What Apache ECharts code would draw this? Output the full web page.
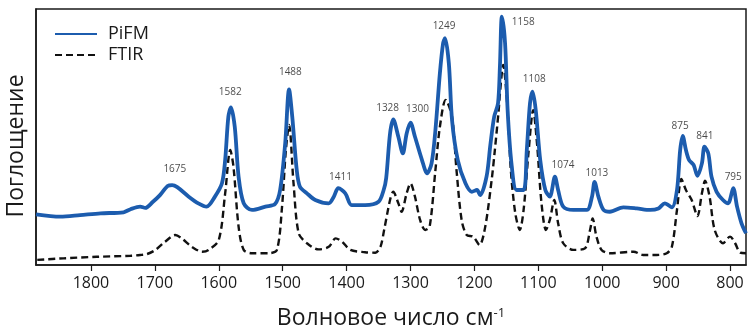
<!DOCTYPE html>
<html>
<head>
<meta charset="utf-8">
<script src="https://cdn.jsdelivr.net/npm/echarts@6/dist/echarts.min.js"></script>
<style>
  html, body { margin: 0; padding: 0; background: #fff; }
  #chart { width: 750px; height: 331px; }
</style>
</head>
<body>
<div id="chart"></div>
<script>
// PiFM spectrum: wavenumber (cm-1) and absorbance (a.u.)
const pifmWn = [1886, 1848, 1817, 1785, 1749, 1738, 1723, 1715, 1703, 1692, 1680, 1673, 1665, 1647, 1632, 1619, 1606, 1595, 1590, 1585, 1581, 1575, 1569, 1561, 1548, 1527, 1512, 1504, 1496, 1490, 1485, 1478, 1473, 1462, 1449, 1428, 1420, 1413, 1402, 1392, 1371, 1350, 1342, 1338, 1332, 1327, 1319, 1312, 1306, 1300, 1293, 1282, 1274, 1267, 1261, 1254, 1249, 1246, 1240, 1235, 1226, 1214, 1204, 1196, 1191, 1181, 1175, 1169, 1163, 1160, 1157, 1152, 1148, 1142, 1134, 1123, 1118, 1113, 1109, 1104, 1097, 1089, 1082, 1074, 1069, 1061, 1045, 1024, 1016, 1012, 1006, 998, 988, 967, 946, 925, 912, 902, 891, 883, 878, 874, 869, 864, 857, 851, 844, 840, 834, 829, 821, 811, 803, 795, 789, 782, 775];
const pifmAbs = [0.198, 0.189, 0.195, 0.202, 0.206, 0.218, 0.228, 0.223, 0.247, 0.273, 0.309, 0.312, 0.304, 0.267, 0.241, 0.228, 0.267, 0.319, 0.410, 0.579, 0.616, 0.540, 0.345, 0.241, 0.215, 0.228, 0.238, 0.293, 0.477, 0.686, 0.579, 0.371, 0.306, 0.280, 0.254, 0.241, 0.267, 0.300, 0.280, 0.234, 0.234, 0.247, 0.293, 0.340, 0.514, 0.569, 0.501, 0.436, 0.514, 0.556, 0.501, 0.410, 0.358, 0.397, 0.527, 0.749, 0.866, 0.886, 0.788, 0.566, 0.410, 0.319, 0.286, 0.293, 0.273, 0.345, 0.470, 0.580, 0.632, 0.780, 0.970, 0.866, 0.605, 0.397, 0.293, 0.293, 0.449, 0.632, 0.677, 0.605, 0.410, 0.293, 0.267, 0.345, 0.293, 0.228, 0.215, 0.215, 0.267, 0.325, 0.267, 0.215, 0.208, 0.225, 0.221, 0.215, 0.221, 0.241, 0.225, 0.293, 0.449, 0.504, 0.449, 0.410, 0.391, 0.348, 0.397, 0.462, 0.436, 0.345, 0.286, 0.254, 0.241, 0.300, 0.228, 0.163, 0.124];

// FTIR spectrum: wavenumber (cm-1) and absorbance (a.u.)
const ftirWn = [1884, 1843, 1791, 1738, 1723, 1712, 1699, 1684, 1668, 1658, 1642, 1626, 1616, 1600, 1590, 1582, 1577, 1569, 1561, 1548, 1522, 1509, 1501, 1495, 1490, 1483, 1475, 1462, 1444, 1428, 1417, 1407, 1394, 1371, 1355, 1347, 1341, 1332, 1327, 1319, 1314, 1306, 1300, 1293, 1285, 1277, 1270, 1261, 1254, 1245, 1235, 1228, 1220, 1212, 1202, 1192, 1183, 1173, 1168, 1162, 1160, 1155, 1148, 1143, 1136, 1129, 1123, 1115, 1108, 1102, 1095, 1088, 1082, 1075, 1069, 1061, 1045, 1027, 1019, 1015, 1009, 1001, 988, 951, 936, 915, 899, 891, 883, 876, 869, 860, 851, 844, 839, 832, 824, 811, 800, 792, 784, 775];
const ftirAbs = [0.020, 0.026, 0.032, 0.036, 0.039, 0.043, 0.059, 0.091, 0.117, 0.104, 0.071, 0.052, 0.059, 0.098, 0.280, 0.449, 0.384, 0.150, 0.059, 0.046, 0.046, 0.059, 0.228, 0.449, 0.547, 0.319, 0.124, 0.085, 0.061, 0.071, 0.104, 0.091, 0.059, 0.050, 0.048, 0.071, 0.140, 0.254, 0.286, 0.241, 0.208, 0.280, 0.319, 0.267, 0.176, 0.137, 0.150, 0.371, 0.540, 0.645, 0.579, 0.371, 0.176, 0.117, 0.111, 0.078, 0.150, 0.332, 0.449, 0.605, 0.671, 0.781, 0.605, 0.371, 0.202, 0.137, 0.215, 0.449, 0.605, 0.474, 0.241, 0.137, 0.176, 0.254, 0.163, 0.085, 0.059, 0.065, 0.137, 0.182, 0.111, 0.059, 0.046, 0.052, 0.039, 0.039, 0.046, 0.071, 0.215, 0.336, 0.293, 0.254, 0.191, 0.280, 0.329, 0.267, 0.137, 0.085, 0.111, 0.085, 0.048, 0.046];

// Annotated PiFM band positions
const peakNames = ['1675', '1582', '1488', '1411', '1328', '1300', '1249', '1158', '1108', '1074', '1013', '875', '841', '795'];
const peakWn = [1675, 1582, 1488, 1411, 1328, 1300, 1249, 1158, 1108, 1074, 1013, 875, 841, 795];

// Axis tick values
const xTicks = [800, 900, 1000, 1100, 1200, 1300, 1400, 1500, 1600, 1700, 1800];

// Pixel nudges for each band label, relative to the band maximum
const labelNudge = [[4, -16], [0, -15], [0, -17], [1, -11], [-5, -11], [7, -14], [1, -12], [22, 5], [1, -13], [8, -12], [3, -9], [-2, -10], [1, -11], [0, -11]];

const FONT = '"Open Sans", "Noto Sans", sans-serif';
const INK = '#1a1a1a';

const pifmData = pifmWn.map((w, i) => [w, pifmAbs[i]]);
const ftirData = ftirWn.map((w, i) => [w, ftirAbs[i]]);

// band label sits on the highest PiFM point near its position
const labelData = peakWn.map((w, i) => {
  let best = -Infinity;
  pifmWn.forEach((pw, j) => {
    if (Math.abs(pw - w) <= 8 && pifmAbs[j] > best) best = pifmAbs[j];
  });
  return {
    name: peakNames[i],
    value: [w, best],
    label: { offset: labelNudge[i] }
  };
});

const chart = echarts.init(document.getElementById('chart'), null, { renderer: 'canvas' });

chart.setOption({
  animation: false,
  backgroundColor: '#ffffff',
  grid: {
    left: 36, right: 4, top: 9, bottom: 66,
    outerBoundsMode: 'none',
    containLabel: false,
    show: true, borderColor: INK, borderWidth: 1.5, backgroundColor: 'transparent'
  },
  legend: {
    orient: 'vertical',
    left: 49, top: 20,
    itemWidth: 42, itemHeight: 14, itemGap: 3,
    data: ['PiFM', 'FTIR'],
    itemStyle: { opacity: 0 },
    textStyle: { fontFamily: FONT, fontSize: 18, color: INK, padding: [0, 0, 0, 6] }
  },
  xAxis: {
    type: 'value',
    inverse: true,
    min: 775, max: 1886,
    name: '{a|Волновое число см}{b|-1}',
    nameLocation: 'middle',
    nameGap: 42,
    nameTextStyle: {
      rich: {
        a: { fontFamily: FONT, fontSize: 23, color: INK },
        b: { fontFamily: FONT, fontSize: 13, color: INK, verticalAlign: 'top' }
      }
    },
    axisLine: { show: true, lineStyle: { color: INK, width: 1.5 } },
    axisTick: { show: true, inside: false, length: 6, customValues: xTicks, lineStyle: { color: INK, width: 1.2 } },
    axisLabel: {
      customValues: xTicks,
      formatter: v => String(v),
      fontFamily: FONT, fontSize: 16, color: INK, margin: 10
    },
    splitLine: { show: false }
  },
  yAxis: {
    type: 'value',
    min: 0, max: 1,
    name: 'Поглощение',
    nameLocation: 'middle',
    nameRotate: 90,
    nameGap: 8,
    nameTextStyle: { fontFamily: FONT, fontSize: 23, color: INK, padding: [0, 18, 0, 0] },
    axisLine: { show: true, lineStyle: { color: INK, width: 1.5 } },
    axisTick: { show: false },
    axisLabel: { show: false },
    splitLine: { show: false }
  },
  series: [
    {
      name: 'FTIR',
      type: 'line',
      data: ftirData,
      showSymbol: false,
      symbol: 'none',
      smooth: 0.3,
      lineStyle: { color: '#111111', width: 2.4, type: [7, 4] },
      itemStyle: { color: '#111111' },
      z: 2
    },
    {
      name: 'PiFM',
      type: 'line',
      data: pifmData,
      showSymbol: false,
      symbol: 'none',
      smooth: 0.3,
      lineStyle: { color: '#1c5cae', width: 3.8 },
      itemStyle: { color: '#1c5cae' },
      z: 3
    },
    {
      name: 'bands',
      type: 'scatter',
      data: labelData,
      symbolSize: 0,
      silent: true,
      z: 4,
      label: {
        show: true,
        position: 'inside',
        formatter: p => p.name,
        fontFamily: FONT,
        fontSize: 10,
        color: INK
      }
    }
  ]
});
</script>
</body>
</html>
